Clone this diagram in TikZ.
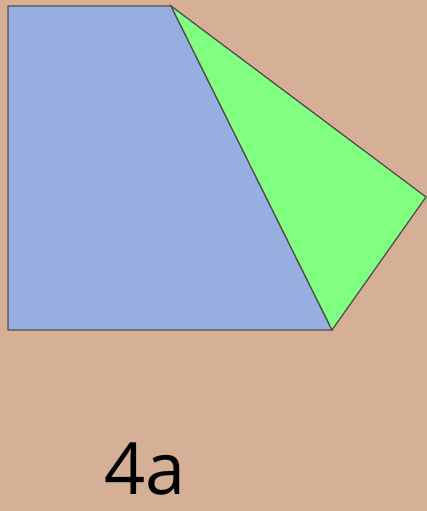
\documentclass[tikz,border=0pt]{standalone}
\usepackage{fontspec}
\setmainfont{Open Sans}
\definecolor{bg}{HTML}{D5B097}
\definecolor{bluefill}{HTML}{97AEE0}
\definecolor{greenfill}{HTML}{80FF80}
\definecolor{edge}{HTML}{505050}
\begin{document}
\begin{tikzpicture}[x=1pt,y=-1pt,
  shapeedge/.style={draw=edge,line width=1.3pt,line join=miter}]
\fill[bg] (0,0) rectangle (427,511);
\useasboundingbox (0,0) rectangle (427,511);
\coordinate (A) at (8,6);
\coordinate (B) at (171,6);
\coordinate (C) at (332,330);
\coordinate (D) at (8,330);
\coordinate (E) at (426,197);
\filldraw[shapeedge,fill=bluefill] (A) -- (B) -- (C) -- (D) -- cycle;
\filldraw[shapeedge,fill=greenfill] (B) -- (E) -- (C) -- cycle;
\node[font=\fontsize{72}{78}\selectfont,inner sep=0pt,anchor=base] (lbl) at (145,494) {4a};
\end{tikzpicture}
\end{document}
